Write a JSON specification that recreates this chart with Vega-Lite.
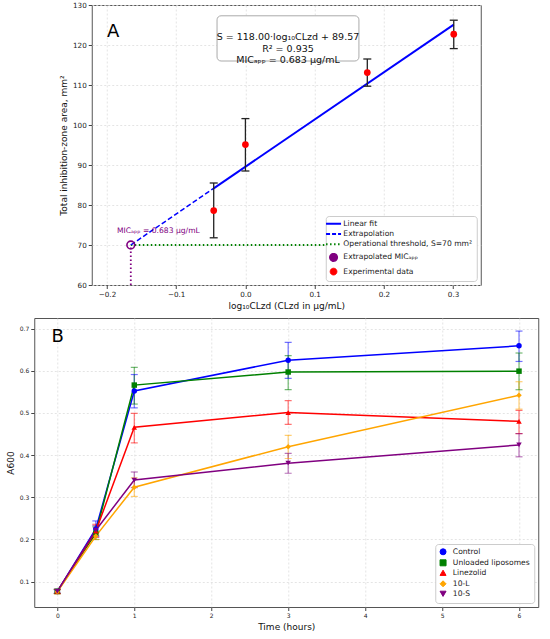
{
  "$schema": "https://vega.github.io/schema/vega-lite/v6.json",
  "background": "white",
  "padding": {"left": 5, "top": 0, "right": 5, "bottom": 2},
  "center": true,
  "spacing": 5,
  "datasets": {
    "expA": [
      {"x": -0.0458, "y": 78.6, "lo": 71.8, "hi": 85.5, "series": "Experimental data"},
      {"x": 0.0, "y": 95.1, "lo": 88.5, "hi": 101.6, "series": "Experimental data"},
      {"x": 0.1761, "y": 113.1, "lo": 109.7, "hi": 116.5, "series": "Experimental data"},
      {"x": 0.301, "y": 122.7, "lo": 119.1, "hi": 126.2, "series": "Experimental data"}
    ],
    "fitA": [
      {"x": -0.0458, "y": 84.17, "series": "Linear fit"},
      {"x": 0.301, "y": 125.09, "series": "Linear fit"}
    ],
    "extA": [
      {"x": -0.1656, "y": 70, "series": "Extrapolation"},
      {"x": -0.0458, "y": 84.17, "series": "Extrapolation"}
    ],
    "thrA": [
      {"x": -0.1656, "y": 70, "series": "Operational threshold, S=70 mm²"},
      {"x": 0.301, "y": 70, "series": "Operational threshold, S=70 mm²"}
    ],
    "micA": [
      {"x": -0.1656, "y": 70, "series": "Extrapolated MICₐₚₚ"}
    ],
    "micDrop": [
      {"x": -0.1656, "y": 60},
      {"x": -0.1656, "y": 70}
    ],
    "notes": [
      {"id": 1}
    ],
    "growth": [
      {"series": "Control", "t": 0, "y": 0.077, "lo": 0.072, "hi": 0.082},
      {"series": "Control", "t": 0.5, "y": 0.225, "lo": 0.207, "hi": 0.244},
      {"series": "Control", "t": 1, "y": 0.552, "lo": 0.512, "hi": 0.591},
      {"series": "Control", "t": 3, "y": 0.625, "lo": 0.582, "hi": 0.667},
      {"series": "Control", "t": 6, "y": 0.659, "lo": 0.622, "hi": 0.694},
      {"series": "Unloaded liposomes", "t": 0, "y": 0.077, "lo": 0.072, "hi": 0.082},
      {"series": "Unloaded liposomes", "t": 0.5, "y": 0.215, "lo": 0.2, "hi": 0.23},
      {"series": "Unloaded liposomes", "t": 1, "y": 0.566, "lo": 0.521, "hi": 0.608},
      {"series": "Unloaded liposomes", "t": 3, "y": 0.597, "lo": 0.555, "hi": 0.636},
      {"series": "Unloaded liposomes", "t": 6, "y": 0.599, "lo": 0.555, "hi": 0.642},
      {"series": "Linezolid", "t": 0, "y": 0.077, "lo": 0.072, "hi": 0.082},
      {"series": "Linezolid", "t": 0.5, "y": 0.22, "lo": 0.205, "hi": 0.236},
      {"series": "Linezolid", "t": 1, "y": 0.466, "lo": 0.429, "hi": 0.499},
      {"series": "Linezolid", "t": 3, "y": 0.501, "lo": 0.473, "hi": 0.529},
      {"series": "Linezolid", "t": 6, "y": 0.48, "lo": 0.451, "hi": 0.506},
      {"series": "10-L", "t": 0, "y": 0.076, "lo": 0.071, "hi": 0.081},
      {"series": "10-L", "t": 0.5, "y": 0.208, "lo": 0.2, "hi": 0.216},
      {"series": "10-L", "t": 1, "y": 0.324, "lo": 0.302, "hi": 0.346},
      {"series": "10-L", "t": 3, "y": 0.42, "lo": 0.392, "hi": 0.447},
      {"series": "10-L", "t": 6, "y": 0.542, "lo": 0.509, "hi": 0.574},
      {"series": "10-S", "t": 0, "y": 0.077, "lo": 0.073, "hi": 0.081},
      {"series": "10-S", "t": 0.5, "y": 0.222, "lo": 0.21, "hi": 0.233},
      {"series": "10-S", "t": 1, "y": 0.341, "lo": 0.323, "hi": 0.36},
      {"series": "10-S", "t": 3, "y": 0.381, "lo": 0.357, "hi": 0.404},
      {"series": "10-S", "t": 6, "y": 0.424, "lo": 0.396, "hi": 0.451}
    ]
  },
  "resolve": {"scale": {"color": "independent", "shape": "independent"}},
  "vconcat": [
    {
      "width": 389,
      "height": 280,
      "layer": [
        {
          "encoding": {
            "x": {"field": "x", "type": "quantitative", "scale": {"domain": [-0.222, 0.34], "nice": false, "zero": false}, "title": "log₁₀CLzd (CLzd in μg/mL)", "axis": {"values": [-0.2, -0.1, 0, 0.1, 0.2, 0.3], "format": ".1f"}},
            "y": {"field": "y", "type": "quantitative", "scale": {"domain": [60, 130], "nice": false, "zero": false}, "title": ["", "Total inhibition-zone area, mm²"], "axis": {"values": [60, 70, 80, 90, 100, 110, 120, 130], "titleLineHeight": 17}}
          },
          "layer": [
            {
              "data": {"name": "thrA"},
              "mark": {"type": "line", "strokeDash": [1.5, 2.5], "strokeWidth": 1.8},
              "encoding": {
                "color": {"field": "series", "type": "nominal", "title": null,
                  "scale": {"domain": ["Linear fit", "Extrapolation", "Operational threshold, S=70 mm²", "Extrapolated MICₐₚₚ", "Experimental data"], "range": ["blue", "blue", "green", "purple", "red"]},
                  "legend": {
                    "orient": "bottom-right", "offset": 4, "padding": 4, "fillColor": "white", "strokeColor": "#cccccc", "cornerRadius": 3,
                    "labelFontSize": 7.6, "labelOffset": 6, "symbolSize": 144, "rowPadding": 1.2,
                    "encode": {"symbols": {"update": {
                      "shape": {"signal": "(datum.value == 'Extrapolated MICₐₚₚ' || datum.value == 'Experimental data') ? 'circle' : 'stroke'"},
                      "size": {"signal": "datum.value == 'Extrapolated MICₐₚₚ' ? 55 : datum.value == 'Experimental data' ? 45 : 225"},
                      "stroke": {"signal": "(datum.value == 'Linear fit' || datum.value == 'Extrapolation') ? 'blue' : datum.value == 'Extrapolated MICₐₚₚ' ? 'purple' : datum.value == 'Experimental data' ? 'red' : 'green'"},
                      "fill": {"signal": "datum.value == 'Experimental data' ? 'red' : 'transparent'"},
                      "strokeDash": {"signal": "datum.value == 'Extrapolation' ? [4, 2] : datum.value == 'Operational threshold, S=70 mm²' ? [1.5, 2.5] : [1, 0]"},
                      "strokeWidth": {"signal": "datum.value == 'Extrapolated MICₐₚₚ' ? 1.6 : datum.value == 'Experimental data' ? 1 : 2"},
                      "opacity": {"value": 1}
                    }}}
                  }
                }
              }
            },
            {
              "data": {"name": "micDrop"},
              "mark": {"type": "line", "strokeDash": [1.5, 2.5], "strokeWidth": 1.8, "color": "purple"},
              "encoding": {}
            },
            {
              "data": {"name": "extA"},
              "mark": {"type": "line", "strokeDash": [5, 2.5], "strokeWidth": 1.5},
              "encoding": {"color": {"field": "series", "type": "nominal"}}
            },
            {
              "data": {"name": "fitA"},
              "mark": {"type": "line", "strokeWidth": 2},
              "encoding": {"color": {"field": "series", "type": "nominal"}}
            },
            {
              "data": {"name": "expA"},
              "mark": {"type": "rule", "color": "#222222", "strokeWidth": 1.3},
              "encoding": {
                "y": {"field": "lo", "type": "quantitative", "scale": {"domain": [60, 130], "nice": false, "zero": false}, "title": ["", "Total inhibition-zone area, mm²"], "axis": {"values": [60, 70, 80, 90, 100, 110, 120, 130], "titleLineHeight": 17}},
                "y2": {"field": "hi"}
              }
            },
            {
              "data": {"name": "expA"},
              "mark": {"type": "tick", "orient": "horizontal", "size": 8, "thickness": 1.3, "color": "#222222", "opacity": 1},
              "encoding": {"y": {"field": "lo", "type": "quantitative", "scale": {"domain": [60, 130], "nice": false, "zero": false}, "title": ["", "Total inhibition-zone area, mm²"], "axis": {"values": [60, 70, 80, 90, 100, 110, 120, 130], "titleLineHeight": 17}}}
            },
            {
              "data": {"name": "expA"},
              "mark": {"type": "tick", "orient": "horizontal", "size": 8, "thickness": 1.3, "color": "#222222", "opacity": 1},
              "encoding": {"y": {"field": "hi", "type": "quantitative", "scale": {"domain": [60, 130], "nice": false, "zero": false}, "title": ["", "Total inhibition-zone area, mm²"], "axis": {"values": [60, 70, 80, 90, 100, 110, 120, 130], "titleLineHeight": 17}}}
            },
            {
              "data": {"name": "expA"},
              "mark": {"type": "point", "filled": true, "size": 45, "opacity": 1},
              "encoding": {"color": {"field": "series", "type": "nominal"}}
            },
            {
              "data": {"name": "micA"},
              "mark": {"type": "point", "filled": false, "size": 60, "strokeWidth": 1.6, "opacity": 1},
              "encoding": {"color": {"field": "series", "type": "nominal"}}
            }
          ]
        },
        {
          "data": {"name": "notes"},
          "mark": {"type": "rect", "fill": "white", "stroke": "#aaaaaa", "strokeWidth": 1, "cornerRadius": 4},
          "encoding": {
            "x": {"datum": -0.041, "type": "quantitative", "scale": {"domain": [-0.222, 0.34], "nice": false, "zero": false}, "axis": {"values": [-0.2, -0.1, 0, 0.1, 0.2, 0.3], "format": ".1f"}},
            "x2": {"datum": 0.164},
            "y": {"datum": 127.3, "type": "quantitative", "scale": {"domain": [60, 130], "nice": false, "zero": false}, "axis": {"values": [60, 70, 80, 90, 100, 110, 120, 130], "titleLineHeight": 17}},
            "y2": {"datum": 116}
          }
        },
        {
          "data": {"name": "notes"},
          "mark": {"type": "text", "fontSize": 9.5, "lineHeight": 11.7, "align": "center", "baseline": "middle", "color": "#111111"},
          "encoding": {
            "x": {"datum": 0.0615, "type": "quantitative", "scale": {"domain": [-0.222, 0.34], "nice": false, "zero": false}, "axis": {"values": [-0.2, -0.1, 0, 0.1, 0.2, 0.3], "format": ".1f"}},
            "y": {"datum": 122.0, "type": "quantitative", "scale": {"domain": [60, 130], "nice": false, "zero": false}, "axis": {"values": [60, 70, 80, 90, 100, 110, 120, 130], "titleLineHeight": 17}},
            "text": {"value": ["S = 118.00·log₁₀CLzd + 89.57", "R² = 0.935", "MICₐₚₚ = 0.683 μg/mL"]}
          }
        },
        {
          "data": {"name": "notes"},
          "mark": {"type": "text", "fontSize": 7.6, "align": "left", "baseline": "middle", "color": "purple"},
          "encoding": {
            "x": {"datum": -0.1855, "type": "quantitative", "scale": {"domain": [-0.222, 0.34], "nice": false, "zero": false}, "axis": {"values": [-0.2, -0.1, 0, 0.1, 0.2, 0.3], "format": ".1f"}},
            "y": {"datum": 73.6, "type": "quantitative", "scale": {"domain": [60, 130], "nice": false, "zero": false}, "axis": {"values": [60, 70, 80, 90, 100, 110, 120, 130], "titleLineHeight": 17}},
            "text": {"value": "MICₐₚₚ = 0.683 μg/mL"}
          }
        },
        {
          "data": {"name": "notes"},
          "mark": {"type": "text", "fontSize": 18, "align": "left", "baseline": "middle", "color": "black"},
          "encoding": {
            "x": {"datum": -0.2, "type": "quantitative", "scale": {"domain": [-0.222, 0.34], "nice": false, "zero": false}, "axis": {"values": [-0.2, -0.1, 0, 0.1, 0.2, 0.3], "format": ".1f"}},
            "y": {"datum": 123.3, "type": "quantitative", "scale": {"domain": [60, 130], "nice": false, "zero": false}, "axis": {"values": [60, 70, 80, 90, 100, 110, 120, 130], "titleLineHeight": 17}},
            "text": {"value": "A"}
          }
        }
      ]
    },
    {
      "width": 504,
      "height": 289,
      "layer": [
        {
          "data": {"name": "growth"},
          "encoding": {
            "x": {"field": "t", "type": "quantitative", "scale": {"domain": [-0.3, 6.25], "nice": false, "zero": false}, "title": "Time (hours)", "axis": {"values": [0, 1, 2, 3, 4, 5, 6], "format": "d", "labelFontSize": 6}},
            "color": {"field": "series", "type": "nominal", "title": null,
              "scale": {"domain": ["Control", "Unloaded liposomes", "Linezolid", "10-L", "10-S"], "range": ["blue", "green", "red", "orange", "purple"]},
              "legend": {
                "orient": "bottom-right", "offset": 4, "padding": 4, "fillColor": "white", "strokeColor": "#cccccc", "cornerRadius": 3,
                "labelFontSize": 7.6, "labelOffset": 6, "symbolSize": 36, "rowPadding": 0, "symbolOpacity": 1, "symbolStrokeWidth": 1
              }
            }
          },
          "layer": [
            {
              "mark": {"type": "rule", "strokeWidth": 1.2, "opacity": 0.55},
              "encoding": {
                "y": {"field": "lo", "type": "quantitative", "scale": {"domain": [0.04, 0.725], "nice": false, "zero": false}, "title": "A600", "axis": {"values": [0.1, 0.2, 0.3, 0.4, 0.5, 0.6, 0.7], "format": ".1f", "labelFontSize": 6}},
                "y2": {"field": "hi"}
              }
            },
            {
              "mark": {"type": "tick", "orient": "horizontal", "size": 7, "thickness": 1.2, "opacity": 0.55},
              "encoding": {
                "y": {"field": "lo", "type": "quantitative", "scale": {"domain": [0.04, 0.725], "nice": false, "zero": false}, "title": "A600", "axis": {"values": [0.1, 0.2, 0.3, 0.4, 0.5, 0.6, 0.7], "format": ".1f", "labelFontSize": 6}}
              }
            },
            {
              "mark": {"type": "tick", "orient": "horizontal", "size": 7, "thickness": 1.2, "opacity": 0.55},
              "encoding": {
                "y": {"field": "hi", "type": "quantitative", "scale": {"domain": [0.04, 0.725], "nice": false, "zero": false}, "title": "A600", "axis": {"values": [0.1, 0.2, 0.3, 0.4, 0.5, 0.6, 0.7], "format": ".1f", "labelFontSize": 6}}
              }
            },
            {
              "mark": {"type": "line", "strokeWidth": 1.5},
              "encoding": {
                "y": {"field": "y", "type": "quantitative", "scale": {"domain": [0.04, 0.725], "nice": false, "zero": false}, "title": "A600", "axis": {"values": [0.1, 0.2, 0.3, 0.4, 0.5, 0.6, 0.7], "format": ".1f", "labelFontSize": 6}}
              }
            },
            {
              "mark": {"type": "point", "filled": true, "size": 30, "opacity": 1},
              "encoding": {
                "y": {"field": "y", "type": "quantitative", "scale": {"domain": [0.04, 0.725], "nice": false, "zero": false}, "title": "A600", "axis": {"values": [0.1, 0.2, 0.3, 0.4, 0.5, 0.6, 0.7], "format": ".1f", "labelFontSize": 6}},
                "shape": {"field": "series", "type": "nominal", "legend": null,
                  "scale": {"domain": ["Control", "Unloaded liposomes", "Linezolid", "10-L", "10-S"], "range": ["circle", "square", "triangle-up", "diamond", "triangle-down"]}}
              }
            }
          ]
        },
        {
          "data": {"name": "notes"},
          "mark": {"type": "text", "fontSize": 18, "align": "left", "baseline": "middle", "color": "black"},
          "encoding": {
            "x": {"datum": -0.077, "type": "quantitative", "scale": {"domain": [-0.3, 6.25], "nice": false, "zero": false}, "axis": {"values": [0, 1, 2, 3, 4, 5, 6], "format": "d", "labelFontSize": 6}},
            "y": {"datum": 0.68, "type": "quantitative", "scale": {"domain": [0.04, 0.725], "nice": false, "zero": false}, "axis": {"values": [0.1, 0.2, 0.3, 0.4, 0.5, 0.6, 0.7], "format": ".1f", "labelFontSize": 6}},
            "text": {"value": "B"}
          }
        }
      ]
    }
  ],
  "config": {
    "font": "DejaVu Sans",
    "view": {"stroke": "#555555", "strokeWidth": 1},
    "axis": {
      "labelFont": "DejaVu Sans", "labelFontSize": 7.2, "labelColor": "#222222",
      "titleFont": "DejaVu Sans", "titleFontSize": 9, "titleFontWeight": "normal", "titleColor": "#111111",
      "tickColor": "#444444", "tickSize": 3.5, "domain": false,
      "gridColor": "#dddddd", "gridDash": [2, 2], "gridWidth": 0.8,
      "labelPadding": 2, "titlePadding": 4
    },
    "legend": {"labelFont": "DejaVu Sans", "labelColor": "#222222"},
    "text": {"font": "DejaVu Sans"}
  }
}
